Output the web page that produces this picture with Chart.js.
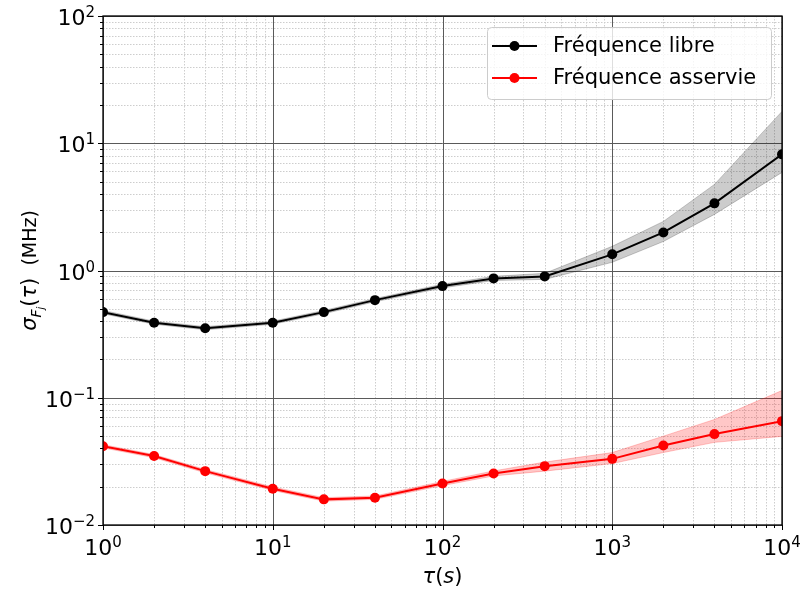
<!DOCTYPE html>
<html>
<head>
<meta charset="utf-8">
<script src="https://cdn.jsdelivr.net/npm/chart.js@4/dist/chart.umd.min.js"></script>
<style>
  body { margin: 0; background: #fff; }
  canvas { display: block; }
</style>
</head>
<body>
<canvas id="c" width="800" height="592"></canvas>
<script>
// temps d'intégration tau (s)
const tau = [1, 2, 4, 10, 20, 40, 100, 200, 400, 1000, 2000, 4000, 10000];

// fréquence libre (MHz) + bornes de la zone grisée
const libre = [0.471, 0.389, 0.352, 0.389, 0.471, 0.585, 0.754, 0.867, 0.899, 1.34, 1.99, 3.37, 8.18];
const libreHaut = [0.485, 0.400, 0.362, 0.400, 0.485, 0.602, 0.780, 0.900, 0.950, 1.55, 2.43, 4.75, 17.8];
const libreBas = [0.457, 0.378, 0.342, 0.378, 0.457, 0.568, 0.730, 0.835, 0.851, 1.16, 1.69, 2.76, 5.9];

// fréquence asservie (MHz)
const asservie = [0.0416, 0.0348, 0.0265, 0.0193, 0.0159, 0.0164, 0.0212, 0.0254, 0.0290, 0.0331, 0.0422, 0.0518, 0.0655];
const asservieHaut = [0.0428, 0.0358, 0.0273, 0.0199, 0.0164, 0.0169, 0.0220, 0.0266, 0.0312, 0.0371, 0.0499, 0.0675, 0.114];
const asservieBas = [0.0404, 0.0338, 0.0257, 0.0187, 0.0154, 0.0159, 0.0204, 0.0243, 0.0265, 0.0304, 0.0371, 0.0446, 0.0497];

// graduations
const xTicks = [1, 10, 100, 1000, 10000];
const xExp = ["0", "1", "2", "3", "4"];
const yTicks = [0.01, 0.1, 1, 10, 100];
const yExp = ["\u22122", "\u22121", "0", "1", "2"];

const FONT = '"DejaVu Sans"';
const pts = (ys) => tau.map((t, i) => ({ x: t, y: ys[i] }));

// puissance de 10 façon matplotlib
function drawPow(ctx, x, base, exp, align, supBase) {
  ctx.font = "22px " + FONT;
  const wb = ctx.measureText("10").width;
  ctx.font = "15px " + FONT;
  const we = ctx.measureText(exp).width;
  const x0 = align === "right" ? x - wb - we : x - (wb + we) / 2;
  ctx.textAlign = "left";
  ctx.textBaseline = "alphabetic";
  ctx.font = "22px " + FONT;
  ctx.fillText("10", x0, base);
  ctx.font = "15px " + FONT;
  ctx.fillText(exp, x0 + wb, supBase);
}

const decor = {
  id: "decor",
  beforeDatasetsDraw(chart) {
    const { ctx, chartArea: a, scales } = chart;
    const sx = scales.x, sy = scales.y;
    ctx.save();
    ctx.lineWidth = 1;
    // grille mineure
    ctx.strokeStyle = "#cdcdcd";
    ctx.setLineDash([1.5, 1.5]);
    for (let e = 0; e < 4; e++) {
      for (let k = 2; k <= 9; k++) {
        const px = Math.round(sx.getPixelForValue(k * Math.pow(10, e))) + 0.5;
        ctx.beginPath(); ctx.moveTo(px, a.top); ctx.lineTo(px, a.bottom); ctx.stroke();
      }
    }
    for (let e = -2; e < 2; e++) {
      for (let k = 2; k <= 9; k++) {
        const py = Math.round(sy.getPixelForValue(k * Math.pow(10, e))) + 0.5;
        ctx.beginPath(); ctx.moveTo(a.left, py); ctx.lineTo(a.right, py); ctx.stroke();
      }
    }
    // grille majeure
    ctx.setLineDash([]);
    ctx.strokeStyle = "#5a5a5a";
    xTicks.forEach((v) => {
      const px = Math.round(sx.getPixelForValue(v)) + 0.5;
      ctx.beginPath(); ctx.moveTo(px, a.top); ctx.lineTo(px, a.bottom); ctx.stroke();
    });
    yTicks.forEach((v) => {
      const py = Math.round(sy.getPixelForValue(v)) + 0.5;
      ctx.beginPath(); ctx.moveTo(a.left, py); ctx.lineTo(a.right, py); ctx.stroke();
    });
    ctx.restore();
  },
  afterDraw(chart) {
    const { ctx, chartArea: a, scales } = chart;
    const sx = scales.x, sy = scales.y;
    ctx.save();
    // cadre
    ctx.strokeStyle = "#000";
    ctx.lineWidth = 1.3;
    ctx.strokeRect(a.left, a.top, a.right - a.left, a.bottom - a.top);
    // petits traits
    ctx.lineWidth = 1;
    for (let e = 0; e <= 4; e++) {
      for (let k = 1; k <= 9; k++) {
        const v = k * Math.pow(10, e);
        if (v > 10000) break;
        const px = Math.round(sx.getPixelForValue(v)) + 0.5;
        ctx.beginPath(); ctx.moveTo(px, a.bottom); ctx.lineTo(px, a.bottom + (k === 1 ? 5 : 3)); ctx.stroke();
      }
    }
    for (let e = -2; e <= 2; e++) {
      for (let k = 1; k <= 9; k++) {
        const v = k * Math.pow(10, e);
        if (v > 100) break;
        const py = Math.round(sy.getPixelForValue(v)) + 0.5;
        ctx.beginPath(); ctx.moveTo(a.left, py); ctx.lineTo(a.left - (k === 1 ? 5 : 3), py); ctx.stroke();
      }
    }
    // étiquettes
    ctx.fillStyle = "#000";
    xTicks.forEach((v, i) => {
      drawPow(ctx, sx.getPixelForValue(v), a.bottom + 30, xExp[i], "center", a.bottom + 22);
    });
    yTicks.forEach((v, i) => {
      const py = sy.getPixelForValue(v);
      drawPow(ctx, a.left - 8, py + 9, yExp[i], "right", py + 1);
    });

    // titre axe x
    ctx.textBaseline = "alphabetic";
    const xparts = [["\u03c4", "italic 21px " + FONT], ["(", "21px " + FONT], ["s", "italic 21px " + FONT], [")", "21px " + FONT]];
    let w = 0;
    xparts.forEach((p) => { ctx.font = p[1]; w += ctx.measureText(p[0]).width; });
    let cx = (a.left + a.right) / 2 - w / 2;
    xparts.forEach((p) => { ctx.font = p[1]; ctx.fillText(p[0], cx, 583); cx += ctx.measureText(p[0]).width; });

    // titre axe y
    ctx.save();
    ctx.translate(36, (a.top + a.bottom) / 2);
    ctx.rotate(-Math.PI / 2);
    const yparts = [
      ["\u03c3", "italic 21px " + FONT, 0],
      ["F", "italic 14px " + FONT, 5],
      ["j", "italic 10px " + FONT, 8],
      ["(", "21px " + FONT, 0],
      ["\u03c4", "italic 21px " + FONT, 0],
      [")", "21px " + FONT, 0],
      ["  (MHz)", "19px " + FONT, 0],
    ];
    w = 0;
    yparts.forEach((p) => { ctx.font = p[1]; w += ctx.measureText(p[0]).width; });
    cx = -w / 2;
    yparts.forEach((p) => { ctx.font = p[1]; ctx.fillText(p[0], cx, p[2]); cx += ctx.measureText(p[0]).width; });
    ctx.restore();

    // légende
    const lx = 487, ly = 27, lw = 284, lh = 72;
    ctx.beginPath();
    ctx.roundRect(lx + 0.5, ly + 0.5, lw, lh, 4);
    ctx.fillStyle = "rgba(255,255,255,0.8)";
    ctx.fill();
    ctx.strokeStyle = "#cccccc";
    ctx.lineWidth = 1;
    ctx.stroke();
    const items = chart.data.datasets.filter((d) => d.label);
    items.forEach((d, i) => {
      const y = 46 + i * 32;
      ctx.strokeStyle = d.borderColor;
      ctx.lineWidth = 2;
      ctx.beginPath(); ctx.moveTo(492, y); ctx.lineTo(537, y); ctx.stroke();
      ctx.fillStyle = d.borderColor;
      ctx.beginPath(); ctx.arc(514.5, y, 5, 0, Math.PI * 2); ctx.fill();
      ctx.fillStyle = "#000";
      ctx.font = "21px " + FONT;
      ctx.textAlign = "left";
      ctx.textBaseline = "middle";
      ctx.fillText(d.label, 553, y + 1);
    });
    ctx.restore();
  },
};

new Chart(document.getElementById("c").getContext("2d"), {
  type: "line",
  data: {
    datasets: [
      {
        label: "Fréquence libre",
        data: pts(libre),
        borderColor: "#000000",
        backgroundColor: "#000000",
        borderWidth: 2,
        pointRadius: 5,
        pointBorderWidth: 0,
        tension: 0,
        clip: 0,
        order: 0,
      },
      {
        label: "Fréquence asservie",
        data: pts(asservie),
        borderColor: "#ff0000",
        backgroundColor: "#ff0000",
        borderWidth: 2,
        pointRadius: 5,
        pointBorderWidth: 0,
        tension: 0,
        clip: 0,
        order: 0,
      },
      // zones grisées
      { data: pts(libreHaut), borderColor: "rgba(0,0,0,0.2)", borderWidth: 1, pointRadius: 0, fill: false, clip: 0, order: 2 },
      { data: pts(libreBas), borderColor: "rgba(0,0,0,0.2)", backgroundColor: "rgba(0,0,0,0.2)", borderWidth: 1, pointRadius: 0, fill: "-1", clip: 0, order: 2 },
      { data: pts(asservieHaut), borderColor: "rgba(255,0,0,0.22)", borderWidth: 1, pointRadius: 0, fill: false, clip: 0, order: 2 },
      { data: pts(asservieBas), borderColor: "rgba(255,0,0,0.22)", backgroundColor: "rgba(255,0,0,0.22)", borderWidth: 1, pointRadius: 0, fill: "-1", clip: 0, order: 2 },
    ],
  },
  options: {
    responsive: false,
    animation: false,
    layout: { padding: { left: 103, right: 18, top: 16, bottom: 67 } },
    plugins: {
      legend: { display: false },
      tooltip: { enabled: false },
    },
    scales: {
      x: { type: "logarithmic", min: 1, max: 10000, display: false },
      y: { type: "logarithmic", min: 0.01, max: 100, display: false },
    },
  },
  plugins: [decor],
});
</script>
</body>
</html>
